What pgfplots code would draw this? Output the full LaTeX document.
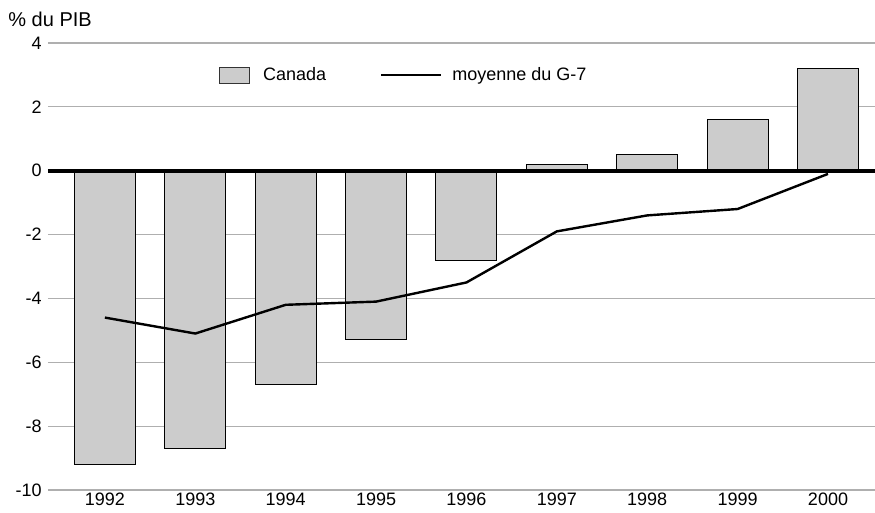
\documentclass[border=0pt]{standalone}
\usepackage{pgfplots}
\pgfplotsset{compat=1.18}
\usepackage{fontspec}
\setmainfont{Liberation Sans}
\definecolor{barc}{RGB}{204,204,204}
\definecolor{gridc}{RGB}{175,175,175}

\begin{document}
\fontsize{9}{11}\selectfont
\begin{tikzpicture}
\begin{axis}[
  scale only axis, width=413.5pt, height=223.5pt,
  xmin=-0.63, xmax=8.52, ymin=-10, ymax=4,
  clip=false,
  axis line style={draw=none}, tick style={draw=none},
  ytick={-10,-8,...,4},
  xtick={0,...,8},
  xticklabels={1992,1993,1994,1995,1996,1997,1998,1999,2000},
  ymajorgrids, grid style={gridc, line width=0.6pt},
  /pgf/number format/assume math mode=true,
  ticklabel style={font=\fontsize{9}{11}\selectfont},
  yticklabel style={xshift=0pt},
  xticklabel style={yshift=1.5pt},
  legend style={at={(0.431,0.928)}, anchor=center, draw=none, fill=none,
    font=\fontsize{9}{11}\selectfont,
    /tikz/every even column/.append style={column sep=25pt}},
  legend columns=2,
]
\addplot[ybar, bar width=30.5pt, fill=barc, draw=black, line width=0.5pt,
  legend image code/.code={\draw[fill=barc, draw=black!80, line width=0.5pt] (0pt,-4pt) rectangle (15pt,4pt);
    \path[draw=none, fill=none] (0pt,0pt) rectangle (20pt,0.1pt);}]
  coordinates {(0,-9.2) (1,-8.7) (2,-6.7) (3,-5.3) (4,-2.8) (5,0.2) (6,0.5) (7,1.6) (8,3.2)};
\addlegendentry{Canada}
\draw[black, line width=2pt] (axis cs:-0.63,0) -- (axis cs:8.52,0);
\addplot[black, line width=1.2pt, mark=none,
  legend image code/.code={\draw[black, line width=1.2pt] (0pt,0pt) -- (30pt,0pt);
    \path[draw=none, fill=none] (0pt,0pt) rectangle (33.5pt,0.1pt);}]
  coordinates {(0,-4.6) (1,-5.1) (2,-4.2) (3,-4.1) (4,-3.5) (5,-1.9) (6,-1.4) (7,-1.2) (8,-0.1)};
\addlegendentry{moyenne du G-7}
\node[anchor=west, inner sep=0pt, font=\fontsize{10}{12}\selectfont] at ([xshift=-20pt, yshift=12pt]rel axis cs:0,1) {\% du PIB};
\coordinate (bl) at (rel axis cs:0,0);
\coordinate (tr) at (rel axis cs:1,1);
\end{axis}
\pgfresetboundingbox
\path[use as bounding box] ([xshift=-24pt, yshift=-11.5pt]bl) rectangle ([yshift=21.5pt]tr);
\end{tikzpicture}
\end{document}
